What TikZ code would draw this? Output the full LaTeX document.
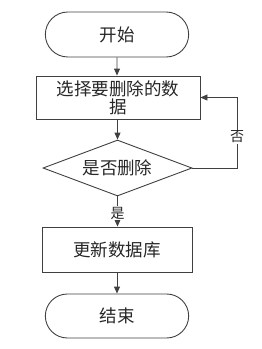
\documentclass[tikz,border=0pt]{standalone}
\usepackage{fontspec}
\newfontfamily\cjk{Noto Sans CJK SC}
\usetikzlibrary{shapes.misc,shapes.geometric,arrows.meta}
\begin{document}
\begin{tikzpicture}[x=1pt,y=-1pt,
  line/.style={draw=black!75, line width=0.9pt},
  arr/.style={line, -{Triangle[length=7pt,width=6pt]}},
  term/.style={line, rounded rectangle, minimum width=150pt, minimum height=45pt, font=\cjk\fontsize{17.5}{21}\selectfont, text=black!85},
  proc/.style={line, rectangle, minimum width=150pt, minimum height=45pt, font=\cjk\fontsize{17.5}{21}\selectfont, text=black!85, align=center},
  dec/.style={line, diamond, aspect=2.66, inner sep=0pt, minimum width=149pt, minimum height=56pt, font=\cjk\fontsize{17.5}{21}\selectfont, text=black!85},
  lab/.style={fill=white, inner sep=1pt, font=\cjk\fontsize{14}{16}\selectfont, text=black!85}]
\useasboundingbox (0,0) rectangle (262,349);
\node[term] (start) at (117,34.5) {开始};
\node[proc, minimum width=164pt, minimum height=43pt, inner sep=1pt] (sel) at (118,97.5) {选择要删除的数\\[-3pt]据};
\node[dec] (dec) at (117.5,168) {是否删除};
\node[proc] (upd) at (117,249.5) {更新数据库};
\node[term, minimum height=44pt] (end) at (117,316) {结束};
\coordinate (rc) at (237,168);
\draw[arr] (start) -- (start.south |- sel.north);
\draw[arr] (sel.south -| dec.north) -- (dec.north);
\draw[arr] (dec.south) -- node[lab, pos=0.55] (yes) {是} (dec.south |- upd.north);
\draw[arr] (upd) -- (upd.south |- end.north);
\draw[arr] (dec.east) -- (rc) -- node[lab, pos=0.44] (no) {否} (rc |- sel.east) -- (sel.east);
\end{tikzpicture}
\end{document}
